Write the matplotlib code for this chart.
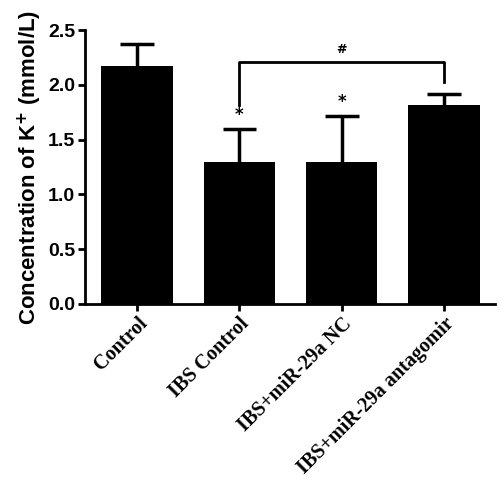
import matplotlib.pyplot as plt

grupos = ['Control', 'IBS Control', 'IBS+miR-29a NC', 'IBS+miR-29a antagomir']
medias = [2.17, 1.30, 1.30, 1.82]
errores = [0.20, 0.30, 0.42, 0.10]
marcas = ['', '*', '*', '']

fig = plt.figure(figsize=(5, 4.87), dpi=100)
ax = fig.add_axes([0.17, 0.376, 0.82, 0.562])

x = list(range(len(grupos)))
ax.bar(x, medias, width=0.7, color='black')

# barras de error solo hacia arriba
topes = [m + e for m, e in zip(medias, errores)]
ax.vlines(x, medias, topes, color='black', lw=2.5)
ax.hlines(topes, [i - 0.165 for i in x], [i + 0.165 for i in x], color='black', lw=2.5)

# asteriscos
for i, m in enumerate(marcas):
    if m:
        ax.text(i, topes[i] + 0.04, m, ha='center', va='bottom',
                fontsize=12, fontweight='bold')

# corchete de comparacion (#)
ax.plot([1, 1, 3, 3], [1.82, 2.21, 2.21, 2.03], color='black', lw=2)
ax.text(2, 2.26, '#', ha='center', va='bottom', fontsize=9, fontweight='bold')

ax.set_xlim(-0.51, 3.5)
ax.set_ylim(0, 2.5)
ax.set_yticks([0.0, 0.5, 1.0, 1.5, 2.0, 2.5])
ax.set_yticklabels(['0.0', '0.5', '1.0', '1.5', '2.0', '2.5'],
                   family='Liberation Sans', fontweight='bold', fontsize=14)
ax.set_xticks(x)
ax.set_xticklabels(grupos, rotation=45, ha='right', rotation_mode='anchor',
                   family='Liberation Serif', fontweight='bold', fontsize=14.5)
ax.set_ylabel('Concentration of K$^\\mathbf{+}$ (mmol/L)', family='Liberation Sans',
              fontweight='bold', fontsize=16, labelpad=3)

for s in ['top', 'right']:
    ax.spines[s].set_visible(False)
for s in ['left', 'bottom']:
    ax.spines[s].set_linewidth(2)
ax.tick_params(width=2, length=5, direction='out', pad=2)

plt.savefig('out.png', dpi=100)
